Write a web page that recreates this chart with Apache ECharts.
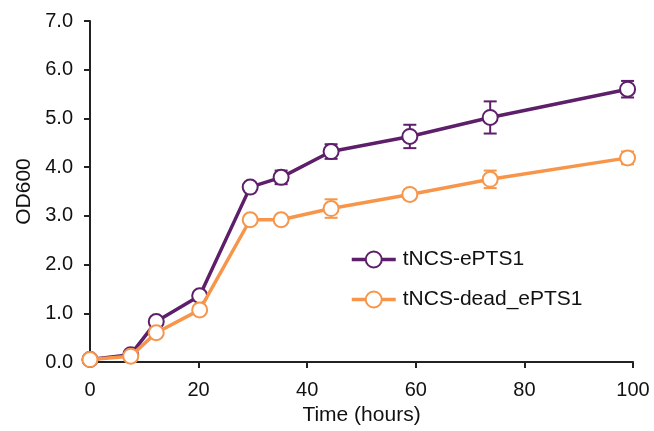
<!DOCTYPE html>
<html>
<head>
<meta charset="utf-8">
<script src="https://cdn.jsdelivr.net/npm/echarts@6/dist/echarts.min.js"></script>
<style>html,body{margin:0;padding:0;background:#fff;}#c{width:654px;height:431px;}</style>
</head>
<body>
<div id="c"></div>
<script>
var times = [0, 7.5, 12.2, 20.2, 29.5, 35.2, 44.4, 58.9, 73.7, 99.0];
var ePTS1Mean = [0.05, 0.15, 0.83, 1.36, 3.59, 3.79, 4.32, 4.63, 5.02, 5.60];
var ePTS1Err  = [0.02, 0.03, 0.05, 0.05, 0.05, 0.14, 0.15, 0.24, 0.33, 0.17];
var deadMean  = [0.05, 0.12, 0.60, 1.07, 2.92, 2.92, 3.15, 3.44, 3.75, 4.19];
var deadErr   = [0.02, 0.03, 0.05, 0.05, 0.05, 0.05, 0.19, 0.10, 0.18, 0.13];
var seriesNames = ['tNCS-ePTS1', 'tNCS-dead_ePTS1'];
var colors = ['#5E1F6A', '#F7964A'];

function pairs(xs, ys) { return xs.map(function (x, i) { return [x, ys[i]]; }); }
function errData(xs, ys, es) { return xs.map(function (x, i) { return [x, ys[i] - es[i], ys[i] + es[i]]; }); }

function errorSeries(name, data, color) {
  return {
    type: 'custom', name: name + ' err', z: 1, silent: true,
    data: data,
    renderItem: function (params, api) {
      var x = api.value(0);
      var lo = api.coord([x, api.value(1)]);
      var hi = api.coord([x, api.value(2)]);
      var hw = 6.5;
      var st = { stroke: color, lineWidth: 2, fill: null };
      return {
        type: 'group',
        children: [
          { type: 'line', shape: { x1: lo[0], y1: lo[1], x2: hi[0], y2: hi[1] }, style: st },
          { type: 'line', shape: { x1: lo[0] - hw, y1: lo[1], x2: lo[0] + hw, y2: lo[1] }, style: st },
          { type: 'line', shape: { x1: hi[0] - hw, y1: hi[1], x2: hi[0] + hw, y2: hi[1] }, style: st }
        ]
      };
    }
  };
}

function lineSeries(name, data, color, z) {
  return {
    type: 'line', name: name, data: data, z: z,
    symbol: 'circle', symbolSize: 15,
    lineStyle: { color: color, width: 3.5 },
    itemStyle: { color: '#fff', borderColor: color, borderWidth: 2 },
    emphasis: { disabled: true },
    animation: false
  };
}

var chart = echarts.init(document.getElementById('c'));
var font = 'Liberation Sans, Arial, sans-serif';
chart.setOption({
  animation: false,
  backgroundColor: '#fff',
  textStyle: { fontFamily: font },
  grid: { left: 90, right: 21, top: 21, bottom: 69 },
  legend: {
    orient: 'vertical', left: 345, top: 244, itemGap: 19,
    itemWidth: 44, itemHeight: 20,
    data: seriesNames,
    lineStyle: { width: 3.5 },
    itemStyle: { borderWidth: 2 },
    textStyle: { fontSize: 21, color: '#111', fontFamily: font, padding: [0, 0, 0, 2] }
  },
  xAxis: {
    type: 'value', min: 0, max: 100, interval: 20,
    name: 'Time (hours)', nameLocation: 'middle', nameGap: 40,
    nameTextStyle: { fontSize: 21, color: '#111', fontFamily: font },
    axisLine: { lineStyle: { color: '#222', width: 2 } },
    axisTick: { inside: false, length: 6, lineStyle: { color: '#222', width: 2 } },
    axisLabel: { fontSize: 20, color: '#111', margin: 18, fontFamily: font },
    splitLine: { show: false }
  },
  yAxis: {
    type: 'value', min: 0, max: 7, interval: 1,
    name: 'OD600', nameLocation: 'middle', nameGap: 55,
    nameTextStyle: { fontSize: 21, color: '#111', fontFamily: font },
    axisLine: { show: true, lineStyle: { color: '#222', width: 2 } },
    axisTick: { show: true, inside: false, length: 6, lineStyle: { color: '#222', width: 2 } },
    axisLabel: { fontSize: 20, color: '#111', margin: 17, fontFamily: font,
      formatter: function (v) { return v.toFixed(1); } },
    splitLine: { show: false }
  },
  series: [
    errorSeries(seriesNames[0], errData(times, ePTS1Mean, ePTS1Err), colors[0]),
    errorSeries(seriesNames[1], errData(times, deadMean, deadErr), colors[1]),
    lineSeries(seriesNames[0], pairs(times, ePTS1Mean), colors[0], 3),
    lineSeries(seriesNames[1], pairs(times, deadMean), colors[1], 4)
  ]
});
</script>
</body>
</html>
